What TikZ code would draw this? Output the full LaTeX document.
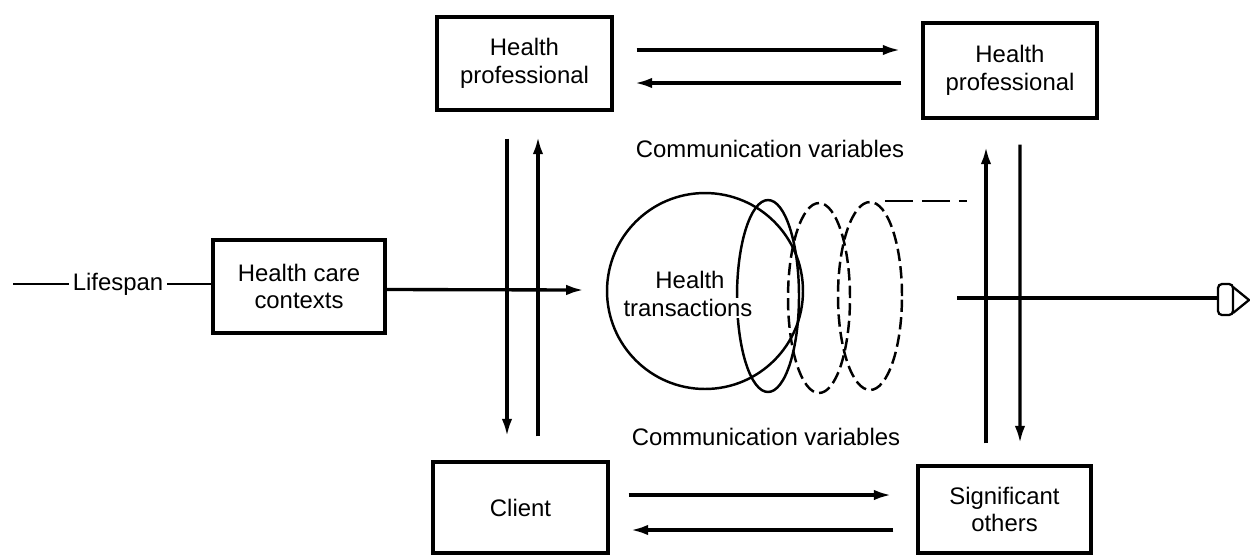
\documentclass[tikz,border=0pt]{standalone}
\usepackage{fontspec}
\setmainfont{Liberation Sans}
\usetikzlibrary{arrows.meta,calc}
\tikzset{
  txt/.style={font=\fontsize{13.6pt}{15.8pt}\selectfont},
  box/.style={txt, draw, line width=1.9pt, inner sep=0pt, align=center},
  lbl/.style={txt, inner sep=1pt, align=center},
  link/.style={line width=1.9pt},
  arr/.style={link, -{Latex[length=10pt,width=6pt]}},
  solidloop/.style={line width=1.4pt},
  dashloop/.style={line width=1.4pt, dash pattern=on 7pt off 3pt},
}
\begin{document}
\begin{tikzpicture}[x=0.02cm, y=-0.02cm]
\path[use as bounding box] (0,0) rectangle (1250,556);

% participants
\node[box, minimum width=3.5cm,  minimum height=1.86cm] (hp1)    at (524.5,63.5)  {Health\\professional};
\node[box, minimum width=3.48cm, minimum height=1.9cm]  (hp2)    at (1010,70.5)   {Health\\professional};
\node[box, minimum width=3.44cm, minimum height=1.86cm] (hcc)    at (299,286.5)   {Health care\\contexts};
\node[box, minimum width=3.5cm,  minimum height=1.82cm] (client) at (520.5,507.5) {Client};
\node[box, minimum width=3.46cm, minimum height=1.74cm] (sig)    at (1004.5,509.5){Significant\\others};

% captions
\node[lbl] (cvtop) at (770,149) {Communication variables};
\node[lbl] (cvbot) at (766,437) {Communication variables};

% lifespan line
\coordinate (origin) at (13,284);
\node[lbl, inner sep=2pt] (life) at (118,284) {Lifespan};
\draw[link, line width=1.3pt] (origin) -- (life.west);
\draw[link, line width=1.3pt] (life.east) -- (life.east -| hcc.west);

% the coil of health transactions
\node[circle, draw, solidloop, minimum size=3.92cm, inner sep=0pt] (loop) at (705,291) {};
\draw[solidloop] (768,296) ellipse [x radius=0.62cm, y radius=1.92cm];
\draw[dashloop] (819,298) ellipse [x radius=0.62cm, y radius=1.9cm];
\draw[dashloop] (870,296) ellipse [x radius=0.64cm, y radius=1.88cm];
\coordinate (coilend) at (885,201);
\coordinate (trail) at (967,201);
\draw[line width=1.4pt, dash pattern=on 16pt off 5pt] (coilend) -- (trail);
\node[lbl] (ht1) at (690,280) {Health};
\node[lbl, fill=white, inner sep=0.5pt] (ht2) at (688,308) {transactions};

% context feeding the transactions
\draw[arr] ($(hcc.east)+(0,3)$) -- ($(loop.west)+(-22,-1)$);

% exchanges between the parties
\draw[arr] ($(hp1.east)+(23,-13.5)$) -- ($(hp2.west)+(-21,-20.5)$);
\draw[arr] ($(hp2.west)+(-20,12.5)$) -- ($(hp1.east)+(21,19.5)$);
\draw[arr] ($(client.east)+(19,-12.5)$) -- ($(sig.west)+(-25,-14.5)$);
\draw[arr] ($(sig.west)+(-23,20.5)$) -- ($(client.east)+(21,22.5)$);

\draw[arr] ($(hp1.south)+(-17.5,27)$) -- ($(client.north)+(-13.5,-24)$);
\draw[arr] ($(client.north)+(17.5,-24)$) -- ($(hp1.south)+(13.5,25)$);
\draw[arr] ($(sig.north)+(-18.5,-21)$) -- ($(hp2.south)+(-24,27)$);
\draw[arr] ($(hp2.south)+(10,25)$) -- ($(sig.north)+(15.5,-21)$);

% outcome line ending in the eye
\coordinate (tail) at (957,298);
\coordinate (eye) at (1219,298);
\draw[link] (tail) -- (eye);
\draw[line width=1.3pt, rounded corners=0.08cm] (1218,284) rectangle (1233,315);
\draw[line width=1.3pt, line join=round] (1233,287) -- (1249,300) -- (1233,313);
\end{tikzpicture}
\end{document}
